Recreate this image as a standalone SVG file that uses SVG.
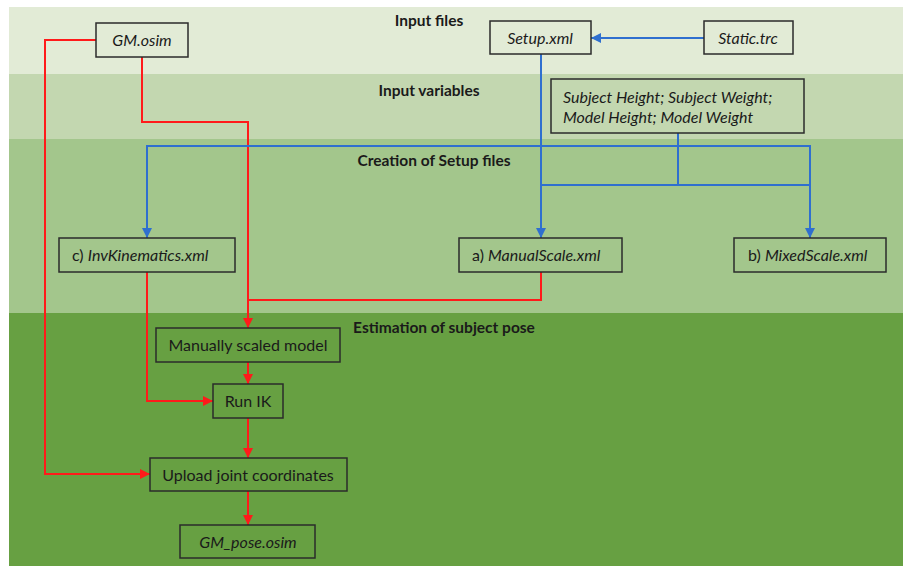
<svg xmlns="http://www.w3.org/2000/svg" width="903" height="566" viewBox="0 0 903 566">
<style>
.band{stroke:none}
.node rect{fill:none;stroke:#2b2b2b;stroke-width:1.5}
.node text{font-family:Lato,"Open Sans","Liberation Sans",sans-serif;font-size:16px;fill:#1a1a1a}
.it{font-style:italic}
.title{font-family:Lato,"Open Sans","Liberation Sans",sans-serif;font-size:15.5px;font-weight:bold;fill:#1a1a1a;text-anchor:middle}
.red{fill:none;stroke:#ff1a1a;stroke-width:2}
.blue{fill:none;stroke:#2f6fcf;stroke-width:2}
</style>
<defs>
<marker id="ar" viewBox="0 0 10 10" refX="10" refY="5" markerWidth="10" markerHeight="10" markerUnits="userSpaceOnUse" orient="auto"><path d="M0,0 L10,5 L0,10 Z" fill="#ff1a1a"/></marker>
<marker id="ab" viewBox="0 0 10 10" refX="10" refY="5" markerWidth="10" markerHeight="10" markerUnits="userSpaceOnUse" orient="auto"><path d="M0,0 L10,5 L0,10 Z" fill="#2f6fcf"/></marker>
</defs>
<rect width="903" height="566" fill="#ffffff"/>
<g id="bands">
<rect class="band" x="9" y="7" width="894" height="67" fill="#e2ebd6"/>
<rect class="band" x="9" y="74" width="894" height="65" fill="#c3d7b0"/>
<rect class="band" x="9" y="139" width="894" height="174" fill="#a3c68c"/>
<rect class="band" x="9" y="313" width="894" height="253" fill="#67a042"/>
<text class="title" x="429" y="26">Input files</text>
<text class="title" x="429" y="96">Input variables</text>
<text class="title" x="434" y="166">Creation of Setup files</text>
<text class="title" x="444" y="333">Estimation of subject pose</text>
</g>
<g id="connectors">
<polyline class="red" points="96,40 45,40 45,474 150,474" marker-end="url(#ar)"/>
<polyline class="red" points="142,57 142,122 248,122 248,328" marker-end="url(#ar)"/>
<polyline class="red" points="541,272 541,300 248,300"/>
<polyline class="red" points="147,272 147,401 213,401" marker-end="url(#ar)"/>
<line class="red" x1="248" y1="362" x2="248" y2="384" marker-end="url(#ar)"/>
<line class="red" x1="248" y1="418" x2="248" y2="458" marker-end="url(#ar)"/>
<line class="red" x1="248" y1="491" x2="248" y2="525" marker-end="url(#ar)"/>
<line class="blue" x1="704" y1="38" x2="591" y2="38" marker-end="url(#ab)"/>
<line class="blue" x1="541" y1="54" x2="541" y2="238" marker-end="url(#ab)"/>
<polyline class="blue" points="678,133 678,185"/>
<polyline class="blue" points="541,185 810,185"/>
<polyline class="blue" points="147,146 810,146 810,238" marker-end="url(#ab)"/>
<line class="blue" x1="147" y1="145" x2="147" y2="238" marker-end="url(#ab)"/>
</g>
<g id="gm-osim" class="node"><rect x="96" y="23" width="92" height="34"/><text class="it" x="142" y="46" text-anchor="middle">GM.osim</text></g>
<g id="setup-xml" class="node"><rect x="490" y="21" width="101" height="33"/><text class="it" x="540" y="44" text-anchor="middle">Setup.xml</text></g>
<g id="static-trc" class="node"><rect x="704" y="21" width="89" height="33"/><text class="it" x="748" y="44" text-anchor="middle">Static.trc</text></g>
<g id="input-vars" class="node"><rect x="551" y="79" width="253" height="54"/><text class="it" x="563" y="103">Subject Height; Subject Weight;</text><text class="it" x="563" y="123">Model Height; Model Weight</text></g>
<g id="invkin" class="node"><rect x="59" y="238" width="176" height="34"/><text x="72" y="261">c) <tspan class="it">InvKinematics.xml</tspan></text></g>
<g id="manualscale" class="node"><rect x="459" y="238" width="163" height="34"/><text x="472" y="261">a) <tspan class="it">ManualScale.xml</tspan></text></g>
<g id="mixedscale" class="node"><rect x="734" y="238" width="152" height="34"/><text x="748" y="261">b) <tspan class="it">MixedScale.xml</tspan></text></g>
<g id="scaled-model" class="node"><rect x="156" y="328" width="184" height="34"/><text x="248" y="351" text-anchor="middle">Manually scaled model</text></g>
<g id="run-ik" class="node"><rect x="213" y="384" width="70" height="34"/><text x="248" y="407" text-anchor="middle">Run IK</text></g>
<g id="upload" class="node"><rect x="150" y="458" width="197" height="33"/><text x="248" y="481" text-anchor="middle">Upload joint coordinates</text></g>
<g id="gm-pose" class="node"><rect x="180" y="525" width="135" height="33"/><text class="it" x="248" y="548" text-anchor="middle">GM_pose.osim</text></g>
</svg>
